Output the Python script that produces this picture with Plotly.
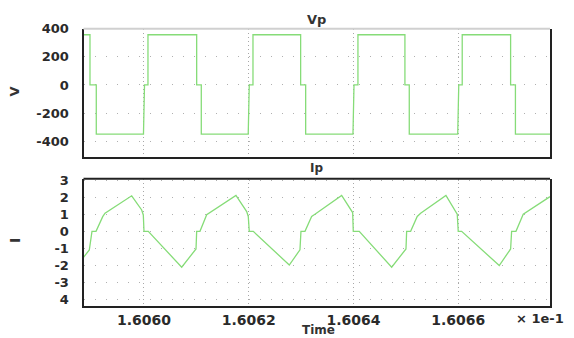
import plotly.graph_objects as go

# ---- data (time axis in units of 1e-1 s) ----
t_v = [1.6058845, 1.6058969, 1.6058969, 1.6059089, 1.6059089, 1.6059990, 1.6060010, 1.6060076,
       1.6060076, 1.6061006, 1.6061006, 1.6061094, 1.6061094, 1.6061990, 1.6062010, 1.6062081,
       1.6062081, 1.6062991, 1.6062991, 1.6063087, 1.6063087, 1.6063990, 1.6064010, 1.6064085,
       1.6064085, 1.6064982, 1.6064982, 1.6065065, 1.6065065, 1.6065990, 1.6066010, 1.6066076,
       1.6066076, 1.6067000, 1.6067000, 1.6067092, 1.6067092, 1.6067752]
v_p = [357, 357, 0, 0, -350, -350, 0, 0,
       357, 357, 0, 0, -350, -350, 0, 0,
       357, 357, 0, 0, -350, -350, 0, 0,
       357, 357, 0, 0, -350, -350, 0, 0,
       357, 357, 0, 0, -350, -350]

t_i = [1.6058845, 1.6058956, 1.6059007, 1.6059084, 1.6059212, 1.6059256, 1.6059765, 1.6059956,
       1.6059987, 1.6060000, 1.6060082, 1.6060720, 1.6060993, 1.6061006, 1.6061069, 1.6061197,
       1.6061756, 1.6061961, 1.6061991, 1.6062010, 1.6062086, 1.6062774, 1.6062978, 1.6062997,
       1.6063074, 1.6063201, 1.6063264, 1.6063774, 1.6063984, 1.6063996, 1.6064110, 1.6064729,
       1.6065002, 1.6065015, 1.6065091, 1.6065217, 1.6065282, 1.6065765, 1.6065981, 1.6066000,
       1.6066065, 1.6066783, 1.6067000, 1.6067019, 1.6067102, 1.6067210, 1.6067241, 1.6067752]
i_p = [-1.52, -1.09, 0, 0, 0.86, 1.06, 2.08, 1.25,
       0.96, 0, 0, -2.10, -1.03, 0, 0, 0.97,
       2.10, 1.16, 0.87, 0, 0, -1.97, -1.08, 0,
       0, 0.87, 1.00, 2.10, 1.10, 0, 0, -2.10,
       -1.03, 0, 0, 0.87, 1.06, 2.10, 1.00, 0,
       0, -2.00, -1.03, 0, 0, 0.87, 1.00, 2.03]

x_ticks = [1.6060, 1.6062, 1.6064, 1.6066]
x_ticktext = ["1.6060", "1.6062", "1.6064", "1.6066"]
v_ticks = [400, 200, 0, -200, -400]
v_ticktext = ["400", "200", "0", "-200", "-400"]
i_ticks = [3, 2, 1, 0, -1, -2, -3, -4]
i_ticktext = ["3", "2", "1", "0", "-1", "-2", "-3", "4"]

W, H = 574, 338
def fx(px):
    return px / W
def fy(py):
    return 1 - py / H

xdom = [fx(83.5), fx(550)]
top_dom = [fy(156.7), fy(28.7)]
bot_dom = [fy(305.7), fy(178.7)]
xrange_ = [1.6058845, 1.6067752]

green = "#86dc78"
dark = "#222222"
tickfont = dict(family="DejaVu Sans", size=13, color="#2a2a2a", weight="bold")

fig = go.Figure()
fig.add_trace(go.Scatter(x=t_v, y=v_p, mode="lines", line=dict(color=green, width=1.3),
                         xaxis="x", yaxis="y", showlegend=False, hoverinfo="skip"))
fig.add_trace(go.Scatter(x=t_i, y=i_p, mode="lines", line=dict(color=green, width=1.3),
                         xaxis="x2", yaxis="y2", showlegend=False, hoverinfo="skip"))

common_x = dict(range=xrange_, domain=xdom, tickvals=x_ticks, ticktext=x_ticktext,
                showgrid=True, gridcolor="#a8a8a8", griddash="1px,3px", gridwidth=1,
                zeroline=False, showline=True, linecolor=dark, linewidth=2,
                automargin=False,
                tickfont=dict(family="DejaVu Sans", size=14, color="#2a2a2a", weight="bold"),
                ticks="", ticklen=0)

fig.update_layout(
    width=W, height=H,
    margin=dict(l=0, r=0, t=0, b=0),
    paper_bgcolor="white", plot_bgcolor="white",
    xaxis=dict(**common_x, anchor="y", showticklabels=False),
    yaxis=dict(range=[-510, 400], domain=top_dom, tickvals=v_ticks, ticktext=v_ticktext,
               showgrid=True, gridcolor="#b0b0b0", griddash="1.5px,9.5px", gridwidth=1,
               zeroline=False, showline=True, mirror=True, linecolor=dark, linewidth=2,
               automargin=False, tickfont=tickfont, anchor="x",
               ticks="outside", ticklen=10, tickcolor="rgba(0,0,0,0)"),
    xaxis2=dict(**common_x, anchor="y2", showticklabels=True),
    yaxis2=dict(range=[-4.35, 3.08], domain=bot_dom, tickvals=i_ticks, ticktext=i_ticktext,
                showgrid=True, gridcolor="#b0b0b0", griddash="1.5px,9.5px", gridwidth=1,
                zeroline=False, showline=True, mirror=True, linecolor=dark, linewidth=2,
                automargin=False, tickfont=tickfont, anchor="x2",
                ticks="outside", ticklen=10, tickcolor="rgba(0,0,0,0)"),
)

# top border of upper plot (light grey) and of lower plot (dark)
fig.add_shape(type="line", xref="paper", yref="paper", x0=xdom[0], x1=xdom[1],
              y0=top_dom[1], y1=top_dom[1], line=dict(color="#d0d0d0", width=2))
fig.add_shape(type="line", xref="paper", yref="paper", x0=xdom[0], x1=xdom[1],
              y0=bot_dom[1], y1=bot_dom[1], line=dict(color=dark, width=2))

def ann(text, x, y, size=13, angle=0, color="#333333", weight="normal"):
    fig.add_annotation(text=text, x=fx(x), y=fy(y), xref="paper", yref="paper",
                       xanchor="center", yanchor="middle", showarrow=False,
                       textangle=angle,
                       font=dict(family="DejaVu Sans", size=size, color=color, weight=weight))

ann("Vp", 316.5, 19.5, size=13, weight="bold")
ann("Ip", 316, 168, size=12, weight="bold")
ann("V", 13.5, 92, size=13, angle=-90, weight="bold")
ann("I", 15, 241, size=14, angle=-90, weight="bold")
ann("Time", 318, 329.5, size=12, weight="bold")
ann("× 1e-1", 540, 318.5, size=13, color="#2a2a2a", weight="bold")

fig.write_html("out.html")
